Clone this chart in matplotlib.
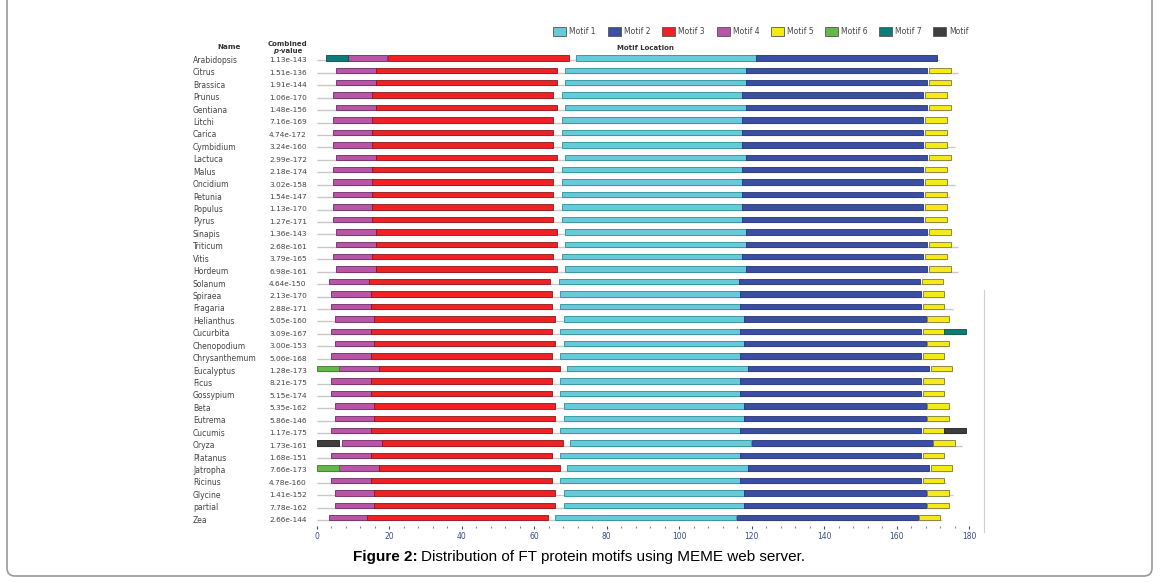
import matplotlib
matplotlib.use('Agg')
import matplotlib.pyplot as plt
from matplotlib.patches import Rectangle, FancyBboxPatch
from matplotlib.ticker import MultipleLocator
from matplotlib import transforms, font_manager

# species (top to bottom) and combined p-values
names = ['Arabidopsis', 'Citrus', 'Brassica', 'Prunus', 'Gentiana', 'Litchi', 'Carica',
         'Cymbidium', 'Lactuca', 'Malus', 'Oncidium', 'Petunia', 'Populus', 'Pyrus',
         'Sinapis', 'Triticum', 'Vitis', 'Hordeum', 'Solanum', 'Spiraea', 'Fragaria',
         'Helianthus', 'Cucurbita', 'Chenopodium', 'Chrysanthemum', 'Eucalyptus', 'Ficus',
         'Gossypium', 'Beta', 'Eutrema', 'Cucumis', 'Oryza', 'Platanus', 'Jatropha',
         'Ricinus', 'Glycine', 'partial', 'Zea']
pvalues = ['1.13e-143', '1.51e-136', '1.91e-144', '1.06e-170', '1.48e-156', '7.16e-169',
           '4.74e-172', '3.24e-160', '2.99e-172', '2.18e-174', '3.02e-158', '1.54e-147',
           '1.13e-170', '1.27e-171', '1.36e-143', '2.68e-161', '3.79e-165', '6.98e-161',
           '4.64e-150', '2.13e-170', '2.88e-171', '5.05e-160', '3.09e-167', '3.00e-153',
           '5.06e-168', '1.28e-173', '8.21e-175', '5.15e-174', '5.35e-162', '5.86e-146',
           '1.17e-175', '1.73e-161', '1.68e-151', '7.66e-173', '4.78e-160', '1.41e-152',
           '7.78e-162', '2.66e-144']

# sequence lengths (grey line)
seq_length = [171.8, 176.9, 174.7, 173.6, 174.7, 173.6, 173.8, 176.0, 174.7, 173.6, 176.0,
              174.7, 173.6, 173.6, 174.7, 177.1, 173.6, 177.1, 172.7, 173.0, 175.5, 173.8,
              179.1, 173.8, 173.0, 175.2, 173.0, 173.0, 174.4, 174.4, 178.8, 178.2, 173.0,
              175.2, 173.6, 175.5, 173.8, 172.5]

# motif start positions per row
motif4_start = [8.3, 5.2, 5.2, 4.4, 5.2, 4.4, 4.4, 4.4, 5.2, 4.4, 4.4, 4.4, 4.4, 4.4, 5.2,
                5.2, 4.4, 5.2, 3.3, 4.0, 4.0, 4.9, 4.0, 4.9, 4.0, 6.1, 4.0, 4.0, 4.9, 4.9,
                4.0, 6.9, 4.0, 6.1, 4.0, 4.9, 4.9, 3.2]
motif3_start = [19.6, 16.3, 16.3, 15.2, 16.3, 15.2, 15.2, 15.2, 16.3, 15.2, 15.2, 15.2, 15.2,
                15.2, 16.3, 16.3, 15.2, 16.3, 14.3, 14.9, 14.9, 15.8, 14.9, 15.8, 14.9, 17.1,
                14.9, 14.9, 15.8, 15.8, 14.9, 17.9, 14.9, 17.1, 14.9, 15.8, 15.8, 13.8]
motif1_start = [71.6, 68.6, 68.6, 67.5, 68.6, 67.5, 67.5, 67.5, 68.6, 67.5, 67.5, 67.5, 67.5,
                67.5, 68.6, 68.6, 67.5, 68.6, 66.7, 67.0, 67.0, 68.1, 67.0, 68.1, 67.0, 69.1,
                67.0, 67.0, 68.1, 68.1, 67.0, 69.9, 67.0, 69.1, 67.0, 68.1, 68.1, 65.8]
motif2_start = [121.2, 118.5, 118.5, 117.4, 118.5, 117.4, 117.4, 117.4, 118.5, 117.4, 117.4,
                117.4, 117.4, 117.4, 118.5, 118.5, 117.4, 118.5, 116.5, 116.8, 116.8, 118.0,
                116.8, 118.0, 116.8, 119.0, 116.8, 116.8, 118.0, 118.0, 116.8, 120.0, 116.8,
                119.0, 116.8, 118.0, 118.0, 115.9]
motif5_start = [None, 169.0, 169.0, 167.9, 169.0, 167.9, 167.9, 167.9, 169.0, 167.9, 167.9,
                167.9, 167.9, 167.9, 169.0, 169.0, 167.9, 169.0, 166.9, 167.2, 167.2, 168.5,
                167.2, 168.5, 167.2, 169.4, 167.2, 167.2, 168.5, 168.5, 167.2, 170.0, 167.2,
                169.4, 167.2, 168.5, 168.5, 166.1]
motif6_start = {'Eucalyptus': 0.0, 'Jatropha': 0.0}
motif7_start = {'Arabidopsis': 2.5, 'Cucurbita': 173.1}
motif8_start = {'Cucumis': 173.1, 'Oryza': 0.0}

motif_width = {1: 50, 2: 50, 3: 50, 4: 11, 5: 6, 6: 6, 7: 6, 8: 6}

legend_labels = ['Motif 1', 'Motif 2', 'Motif 3', 'Motif 4', 'Motif 5', 'Motif 6', 'Motif 7', 'Motif']
face = {1: '#66cad8', 2: '#3a4ea2', 3: '#ee2225', 4: '#b955a6', 5: '#f6ea16',
        6: '#63b847', 7: '#0f7b77', 8: '#3d3d3d'}
edge = {1: '#2b8f9c', 2: '#27337a', 3: '#8e1518', 4: '#6f2a66', 5: '#7c7a3a',
        6: '#3a7a2a', 7: '#06504c', 8: '#1e1e1e'}

W, H = 1160, 582
fig = plt.figure(figsize=(W / 100, H / 100), dpi=100)


def fx(px):
    return px / W


def fy(py):
    return 1 - py / H


ax = fig.add_axes([fx(317), fy(526), (969 - 317) / W, (526 - 50) / H])
ax.set_xlim(0, 180)
ax.set_ylim(37.67, -0.63)

starts = {1: motif1_start, 2: motif2_start, 3: motif3_start, 4: motif4_start, 5: motif5_start}
extras = {6: motif6_start, 7: motif7_start, 8: motif8_start}

for i, name in enumerate(names):
    ax.plot([0, seq_length[i]], [i + 0.21, i + 0.21], color='#c8c8c8', lw=1.0,
            solid_capstyle='butt', zorder=1)
    row = [(m, starts[m][i]) for m in (4, 3, 1, 2, 5)]
    for m, d in extras.items():
        if name in d:
            row.append((m, d[name]))
    for m, s in row:
        if s is None:
            continue
        ax.add_patch(Rectangle((s, i - 0.22), motif_width[m], 0.44, facecolor=face[m],
                               edgecolor=edge[m], lw=0.6, zorder=2))

for sp in ax.spines.values():
    sp.set_visible(False)
ax.set_yticks([])
ax.set_xticks(range(0, 181, 20))
ax.xaxis.set_minor_locator(MultipleLocator(4))
ax.tick_params(axis='x', which='major', colors='#3b4a8a', labelsize=5.5, length=2.5,
               width=0.8, pad=1.5)
ax.tick_params(axis='x', which='minor', colors='#7a86b8', length=1.2, width=0.8)

# row labels
trans = transforms.blended_transform_factory(ax.transAxes, ax.transData)
for i, name in enumerate(names):
    ax.text((193 - 317) / 652, i + 0.2, name, transform=trans, fontsize=5.5,
            color='#444444', va='center', ha='left')
    ax.text((269 - 317) / 652, i + 0.2, pvalues[i], transform=trans, fontsize=5.3,
            color='#444444', va='center', ha='left')

# headers
fig.text(fx(229), fy(47), 'Name', fontsize=5.2, weight='bold', color='#333333',
         ha='center', va='center')
fig.text(fx(288), fy(44), 'Combined', fontsize=5.0, weight='bold', color='#333333',
         ha='center', va='center')
fig.text(fx(276), fy(51), 'p', fontsize=5.0, weight='bold', style='italic',
         color='#333333', ha='center', va='center')
fig.text(fx(279), fy(51), '-value', fontsize=5.0, weight='bold', color='#333333',
         ha='left', va='center')
fig.text(fx(645), fy(48), 'Motif Location', fontsize=5.0, weight='bold', color='#333333',
         ha='center', va='center')

# legend
legend_x = [553, 608, 662, 717, 771, 825, 879, 933]
legend_ids = [1, 2, 3, 4, 5, 6, 7, 8]
for lx, m, lab in zip(legend_x, legend_ids, legend_labels):
    fig.add_artist(Rectangle((fx(lx), fy(36)), 13 / W, 9 / H, transform=fig.transFigure,
                             facecolor=face[m], edgecolor='#555555', lw=0.6))
    fig.text(fx(lx + 16), fy(32), lab, fontsize=5.5, color='#444444', ha='left', va='center')

# faint vertical line at right
fig.add_artist(plt.Line2D([fx(984), fx(984)], [fy(290), fy(532)], color='#d0d0d0', lw=0.8))

# frame (top edge outside the picture)
fig.add_artist(FancyBboxPatch((7, H - 576), 1145, 1200,
                              boxstyle='round,pad=0,rounding_size=8',
                              transform=transforms.IdentityTransform(),
                              fill=False, edgecolor='#9a9a9a', lw=1.2))

# caption
installed = {f.name for f in font_manager.fontManager.ttflist}
cap_font = ['Liberation Sans Narrow'] if 'Liberation Sans Narrow' in installed else ['Liberation Sans']
cap_font = cap_font + ['DejaVu Sans']
r = fig.canvas.get_renderer()
t1 = fig.text(0, fy(557), 'Figure 2:', fontsize=10, weight='bold', family=cap_font,
              ha='left', va='center')
t2 = fig.text(0, fy(557), 'Distribution of FT protein motifs using MEME web server.',
              fontsize=10, family=cap_font, ha='left', va='center')
w_total = t1.get_window_extent(r).width + t2.get_window_extent(r).width + 3.5
size = min(10 * 454 / w_total, 13)
t1.set_fontsize(size)
t2.set_fontsize(size)
w1 = t1.get_window_extent(r).width
w2 = t2.get_window_extent(r).width
gap = 3.5
x0 = 579 - (w1 + gap + w2) / 2
t1.set_x(fx(x0))
t2.set_x(fx(x0 + w1 + gap))

fig.savefig('out.png', dpi=100)
